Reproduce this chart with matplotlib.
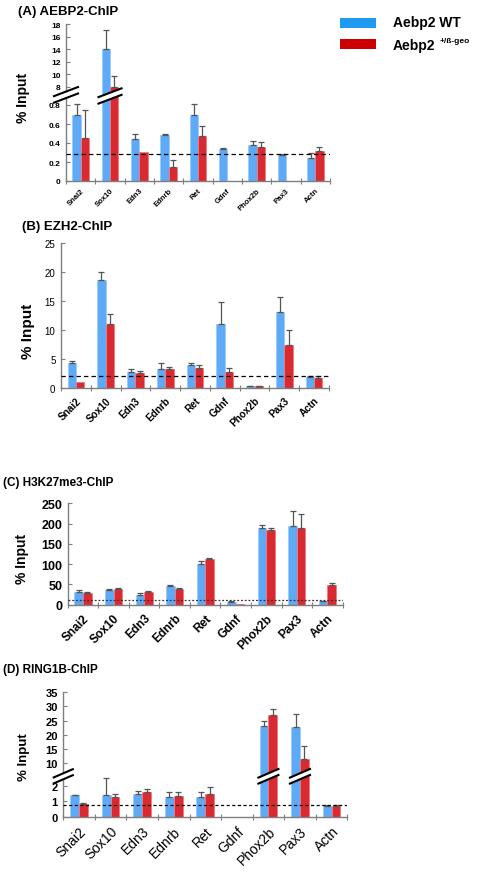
import numpy as np
import matplotlib
matplotlib.use('Agg')
import matplotlib.pyplot as plt
from matplotlib.transforms import IdentityTransform
from matplotlib.patches import Polygon, Rectangle
from matplotlib.lines import Line2D

plt.rcParams['font.family'] = ['Liberation Sans', 'DejaVu Sans']

genes = ['Snai2', 'Sox10', 'Edn3', 'Ednrb', 'Ret', 'Gdnf', 'Phox2b', 'Pax3', 'Actn']
series_names = ['Aebp2 WT', 'Aebp2']
mut_sup = '+/ß-geo'

# (A) AEBP2-ChIP
aebp2_wt = [0.70, 14.0, 0.44, 0.48, 0.69, 0.34, 0.38, 0.27, 0.24]
aebp2_wt_err = [0.11, 3.05, 0.05, 0.02, 0.12, 0.005, 0.04, 0.01, 0.05]
aebp2_mut = [0.45, 8.0, 0.31, 0.15, 0.47, 0.0, 0.36, 0.0, 0.32]
aebp2_mut_err = [0.30, 1.75, 0.0, 0.07, 0.11, 0.0, 0.05, 0.0, 0.04]
aebp2_cut = 0.285
aebp2_ticks = [0, 0.2, 0.4, 0.6, 0.8, 8, 10, 12, 14, 16, 18]

# (B) EZH2-ChIP
ezh2_wt = [4.3, 18.7, 2.7, 3.3, 4.0, 11.1, 0.35, 13.2, 1.9]
ezh2_wt_err = [0.4, 1.3, 0.5, 1.1, 0.4, 3.8, 0.05, 2.5, 0.1]
ezh2_mut = [1.04, 11.1, 2.6, 3.3, 3.5, 2.8, 0.35, 7.5, 1.8]
ezh2_mut_err = [0.0, 1.7, 0.3, 0.4, 0.4, 0.7, 0.05, 2.5, 0.2]
ezh2_cut = 2.1
ezh2_ticks = [0, 5, 10, 15, 20, 25]

# (C) H3K27me3-ChIP
h3_wt = [32, 36, 25, 46, 101, 7, 189, 194, 9]
h3_wt_err = [4, 2, 3, 2, 6, 2, 7, 36, 1]
h3_mut = [30, 39, 32, 39, 113, 2, 184, 190, 49]
h3_mut_err = [1, 1, 2, 3, 2, 0, 6, 33, 4]
h3_cut = 12
h3_ticks = [0, 50, 100, 150, 200, 250]

# (D) RING1B-ChIP
ring_wt = [1.42, 1.44, 1.48, 1.31, 1.31, 0.0, 23.0, 22.8, 0.72]
ring_wt_err = [0.03, 1.09, 0.22, 0.29, 0.29, 0.0, 1.7, 4.5, 0.02]
ring_mut = [0.83, 1.31, 1.60, 1.37, 1.48, 0.0, 27.1, 11.4, 0.72]
ring_mut_err = [0.04, 0.19, 0.21, 0.26, 0.44, 0.0, 2.1, 4.7, 0.02]
ring_cut = 0.76
ring_ticks = [0, 1, 2, 10, 15, 20, 25, 30, 35]

BLUE = '#5EAAF6'
RED = '#DA2A31'
BLUE_EDGE = '#9CCBFA'
RED_EDGE = '#EE7A80'
LEG_BLUE = '#1E9BF0'
LEG_RED = '#CC0000'
SPINE = '#7F7F7F'

W, H = 484, 878
fig = plt.figure(figsize=(W / 100, H / 100), dpi=100)


def add_ax(l, t, r, b):
    return fig.add_axes([l / W, 1 - b / H, (r - l) / W, (b - t) / H])


def broken_scale(lo_end, lo_slope, hi_start, hi_ref, hi_ref_px, hi_slope):
    p1 = lo_end * lo_slope
    p2 = hi_ref_px + (hi_start - hi_ref) * hi_slope
    xs = np.array([-1e4, 0.0, lo_end, hi_start, 1e4])
    ps = np.array([-1e4 * lo_slope, 0.0, p1, p2, hi_ref_px + (1e4 - hi_ref) * hi_slope])

    def fwd(y):
        return np.interp(np.asarray(y, dtype=float), xs, ps)

    def inv(p):
        return np.interp(np.asarray(p, dtype=float), ps, xs)
    return fwd, inv


def draw_break(trans, x, y, w, gap=6.5, tilt=0.38, lw=1.5):
    cx, cy = trans.transform((x, y))
    dx, dy = w / 2, w / 2 * tilt
    top = [(cx - dx, cy - dy + gap / 2), (cx + dx, cy + dy + gap / 2)]
    bot = [(cx - dx, cy - dy - gap / 2), (cx + dx, cy + dy - gap / 2)]
    poly = Polygon([top[0], top[1], bot[1], bot[0]], closed=True,
                   transform=IdentityTransform(), fc='white', ec='none', zorder=10)
    fig.add_artist(poly)
    for seg in (top, bot):
        fig.add_artist(Line2D([seg[0][0], seg[1][0]], [seg[0][1], seg[1][1]],
                              transform=IdentityTransform(), color='black',
                              lw=lw, zorder=11, solid_capstyle='butt'))


def panel(ax, wt, wte, mut, mute, cut, ticks, ylim, ytick_fs, ytick_w,
          xtick_fs, xtick_w, cut_ls, cut_color='black', ticklabels=None):
    n = len(genes)
    x = np.arange(n)
    w = 0.28
    wt = np.asarray(wt, float)
    mut = np.asarray(mut, float)
    wte = np.asarray(wte, float)
    mute = np.asarray(mute, float)
    ax.bar(x - w / 2, wt, w, color=BLUE, edgecolor=BLUE_EDGE, lw=0.6, zorder=2)
    ax.bar(x + w / 2, mut, w, color=RED, edgecolor=RED_EDGE, lw=0.6, zorder=2)
    for xs, v, e in ((x - w / 2, wt, wte), (x + w / 2, mut, mute)):
        m = e > 0
        ax.errorbar(xs[m], v[m], yerr=[np.zeros(m.sum()), e[m]], fmt='none',
                    ecolor='#555555', elinewidth=0.9, capsize=2.2, capthick=0.9,
                    zorder=3)
    ax.axhline(cut, color=cut_color, ls=cut_ls, lw=0.9, zorder=4)
    ax.set_xlim(-0.5, n - 0.5)
    ax.set_ylim(*ylim)
    for s in ('top', 'right'):
        ax.spines[s].set_visible(False)
    for s in ('left', 'bottom'):
        ax.spines[s].set_color(SPINE)
        ax.spines[s].set_linewidth(1.0)
    ax.set_yticks(ticks)
    ax.set_yticklabels(ticklabels if ticklabels else [str(t) for t in ticks],
                       fontsize=ytick_fs, fontweight=ytick_w)
    ax.tick_params(axis='y', direction='in', length=3, color=SPINE, pad=4)
    ax.set_xticks(x)
    ax.set_xticklabels(genes, rotation=45, ha='right', rotation_mode='anchor',
                       fontsize=xtick_fs, fontweight=xtick_w)
    ax.set_xticks(np.arange(-0.5, n, 1.0), minor=True)
    ax.tick_params(axis='x', which='major', length=0, pad=5)
    ax.tick_params(axis='x', which='minor', direction='inout', length=5,
                   color=SPINE, width=0.8)


# ---- Panel A ----
axA = add_ax(66, 25, 330, 182)
fA, iA = broken_scale(0.85, 95, 7.4, 8, 94, 6.3)
axA.set_yscale('function', functions=(fA, iA))
panel(axA, aebp2_wt, aebp2_wt_err, aebp2_mut, aebp2_mut_err, aebp2_cut,
      aebp2_ticks, (0, 18), 6, 'bold', 5.5, 'bold', (0, (3.5, 2.5)),
      ticklabels=['0', '0.2', '0.4', '0.6', '0.8', '8', '10', '12', '14', '16', '18'])
axA.tick_params(axis='x', which='major', pad=4)
draw_break(axA.get_yaxis_transform(), 0, 4.6, 26)
draw_break(axA.transData, genes.index('Sox10'), 3.8, 25)

# ---- Panel B ----
axB = add_ax(61, 244.3, 329, 389)
panel(axB, ezh2_wt, ezh2_wt_err, ezh2_mut, ezh2_mut_err, ezh2_cut,
      ezh2_ticks, (0, 25), 7, 'normal', 7.2, 'bold', (0, (3.5, 2.5)))

# ---- Panel C ----
axC = add_ax(67.7, 504.3, 342.7, 605.7)
panel(axC, h3_wt, h3_wt_err, h3_mut, h3_mut_err, h3_cut,
      h3_ticks, (0, 250), 9, 'bold', 8.6, 'bold', (0, (1.5, 1.5)),
      cut_color='#333333')

# ---- Panel D ----
axD = add_ax(63.3, 693.3, 347.3, 817.7)
fD, iD = broken_scale(2.55, 15.3, 9.3, 10, 53.7, 2.83)
axD.set_yscale('function', functions=(fD, iD))
panel(axD, ring_wt, ring_wt_err, ring_mut, ring_mut_err, ring_cut,
      ring_ticks, (0, 35), 8, 'bold', 10, 'normal', (0, (2.5, 2.0)))
draw_break(axD.get_yaxis_transform(), 0, 3.3, 21, gap=6, tilt=0.43)
draw_break(axD.transData, genes.index('Phox2b'), 3.3, 22, gap=6, tilt=0.43)
draw_break(axD.transData, genes.index('Pax3'), 3.3, 22, gap=6, tilt=0.43)

# ---- Titles and y-labels ----
def ftext(x, y, s, **kw):
    return fig.text(x / W, 1 - y / H, s, **kw)

ftext(18, 12, '(A) AEBP2-ChIP', fontsize=9.5, fontweight='bold', ha='left', va='center')
ftext(22, 227, '(B) EZH2-ChIP', fontsize=9.5, fontweight='bold', ha='left', va='center')
ftext(3, 483, '(C) H3K27me3-ChIP', fontsize=8.5, fontweight='bold', ha='left', va='center')
ftext(3, 670, '(D) RING1B-ChIP', fontsize=8.5, fontweight='bold', ha='left', va='center')

ftext(23, 98, '% Input', fontsize=10, fontweight='bold', rotation=90, ha='center', va='center')
ftext(28, 331, '% Input', fontsize=11, fontweight='bold', rotation=90, ha='center', va='center')
ftext(22, 559, '% Input', fontsize=10, fontweight='bold', rotation=90, ha='center', va='center')
ftext(24, 757, '% Input', fontsize=9.5, fontweight='bold', rotation=90, ha='center', va='center')

# ---- Legend ----
for (y0, y1), c in (((19, 29), LEG_BLUE), ((40, 50), LEG_RED)):
    fig.add_artist(Rectangle((340 / W, 1 - y1 / H), 36 / W, (y1 - y0) / H,
                             transform=fig.transFigure, fc=c, ec='none'))
ftext(393, 23, series_names[0], fontsize=10, fontweight='bold', ha='left', va='center')
t2 = ftext(393, 46, series_names[1], fontsize=10, fontweight='bold', ha='left', va='center')
plt.annotate(mut_sup, xy=(1, 0.8), xycoords=t2, xytext=(3, 0),
             textcoords='offset points', fontsize=6, fontweight='bold',
             ha='left', va='center', annotation_clip=False)

fig.savefig('out.png', dpi=100)
